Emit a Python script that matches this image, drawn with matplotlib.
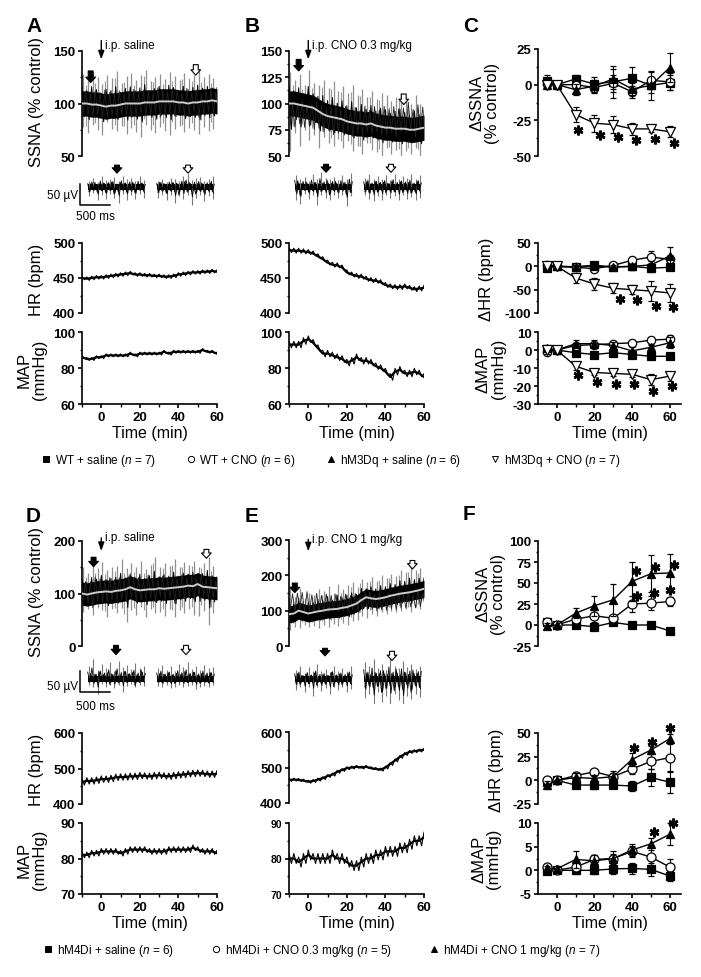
import matplotlib
matplotlib.use('Agg')
import matplotlib.pyplot as plt
from matplotlib.lines import Line2D
import numpy as np

plt.rcParams['font.family'] = ['Liberation Sans', 'DejaVu Sans']
plt.rcParams['mathtext.fontset'] = 'custom'
plt.rcParams['mathtext.rm'] = 'Liberation Sans'
plt.rcParams['mathtext.it'] = 'Liberation Sans:italic'

# ---------------- data: continuous recordings (2.5-min grid) ----------------
trace_t = [-10, -7.5, -5, -2.5, 0, 2.5, 5, 7.5, 10, 12.5, 15, 17.5, 20, 22.5, 25,
           27.5, 30, 32.5, 35, 37.5, 40, 42.5, 45, 47.5, 50, 52.5, 55, 57.5, 60]

# SSNA (% control): running mean, spike tops, spike bottoms
ssna_a_mean = [100, 100, 99, 99, 98, 97, 98, 98, 99, 100, 100, 100, 100, 101, 101, 101, 102, 102, 102, 102, 101, 101, 100, 101, 101, 102, 102, 103, 102]
ssna_a_hi = [128, 122, 130, 125, 119, 127, 124, 131, 120, 126, 129, 122, 127, 132, 121, 125, 128, 123, 130, 126, 122, 129, 124, 127, 131, 125, 128, 124, 126]
ssna_a_lo = [78, 72, 80, 75, 70, 82, 76, 74, 79, 71, 77, 73, 68, 80, 75, 72, 78, 74, 70, 76, 79, 73, 77, 75, 71, 78, 74, 76, 80]
ssna_b_mean = [100, 100, 99, 98, 97, 96, 93, 90, 88, 87, 86, 85, 83, 82, 81, 81, 80, 81, 79, 78, 77, 77, 76, 76, 76, 75, 75, 76, 77]
ssna_b_hi = [130, 122, 128, 118, 132, 120, 118, 122, 115, 121, 112, 117, 110, 118, 108, 114, 106, 112, 104, 110, 108, 102, 106, 110, 104, 100, 108, 100, 98]
ssna_b_lo = [55, 72, 60, 75, 65, 70, 58, 68, 62, 60, 66, 58, 64, 55, 60, 52, 62, 56, 54, 50, 58, 52, 56, 50, 55, 52, 58, 50, 55]
ssna_d_mean = [100, 98, 100, 102, 103, 104, 103, 105, 106, 108, 112, 108, 106, 107, 108, 108, 110, 109, 110, 111, 112, 113, 115, 114, 118, 113, 112, 111, 110]
ssna_d_hi = [150, 140, 155, 148, 160, 145, 150, 152, 165, 148, 158, 150, 162, 146, 155, 170, 150, 158, 152, 165, 150, 160, 155, 162, 150, 158, 170, 152, 150]
ssna_d_lo = [65, 70, 60, 72, 68, 55, 70, 62, 72, 45, 68, 60, 75, 55, 70, 62, 65, 58, 70, 55, 68, 62, 70, 60, 58, 66, 40, 62, 70]
ssna_e_mean = [90, 92, 100, 96, 92, 95, 98, 100, 103, 104, 105, 108, 110, 115, 120, 130, 138, 135, 133, 135, 138, 142, 145, 148, 150, 152, 155, 158, 162]
ssna_e_hi = [170, 140, 165, 135, 150, 145, 160, 155, 170, 150, 175, 160, 172, 180, 168, 190, 182, 195, 185, 200, 192, 205, 198, 215, 210, 225, 215, 220, 218]
ssna_e_lo = [45, 55, 50, 60, 55, 58, 52, 60, 55, 62, 58, 65, 60, 70, 75, 85, 80, 90, 85, 95, 90, 100, 95, 100, 105, 95, 110, 105, 115]
ssna_core = {'A': 12, 'B': 12, 'D': 22, 'E': 24}

hr_a = [450, 449, 450, 451, 451, 452, 453, 454, 455, 456, 457, 455, 455, 454, 454, 453, 453, 452, 452, 453, 455, 456, 457, 458, 458, 459, 459, 460, 459]
map_a = [86, 85, 85, 86, 86, 87, 87, 87, 87, 87, 88, 87, 88, 88, 88, 88, 88, 89, 88, 89, 89, 89, 89, 89, 89, 90, 89, 89, 88]
hr_b = [490, 489, 489, 488, 487, 485, 481, 477, 472, 469, 468, 465, 458, 455, 453, 452, 449, 447, 446, 444, 440, 438, 437, 437, 438, 436, 434, 435, 436]
map_b = [93, 93, 93, 95, 96, 94, 91, 88, 88, 87, 86, 85, 83, 84, 86, 84, 84, 83, 81, 80, 78, 75, 78, 79, 77, 77, 78, 77, 75]
hr_d = [462, 465, 465, 467, 470, 470, 472, 475, 476, 476, 478, 478, 480, 479, 478, 480, 481, 479, 478, 480, 482, 483, 485, 486, 487, 486, 484, 484, 485]
map_d = [81, 81, 81.5, 81.5, 82, 82, 82, 82, 81.5, 82, 82.5, 82.5, 82.5, 82.5, 82, 82, 82, 82, 82.5, 82.5, 82.5, 82.5, 82.5, 83, 82.5, 82, 82, 82, 81.5]
hr_e = [465, 466, 465, 463, 460, 462, 466, 470, 476, 480, 488, 493, 498, 500, 502, 500, 502, 498, 496, 494, 500, 510, 520, 530, 538, 544, 546, 548, 550]
map_e = [80, 80, 79, 80, 81, 80, 80, 80, 80, 81, 80, 80, 79, 78, 78, 79, 80, 80, 81, 81, 82, 82, 82, 83, 83, 84, 85, 85, 86]
# beat-to-beat jitter half-width of each pressure / rate trace
trace_jitter = {'hr_a': 2.5, 'map_a': 0.8, 'hr_b': 3.5, 'map_b': 1.8,
                'hr_d': 9, 'map_d': 0.8, 'hr_e': 4, 'map_e': 1.4}

# raw SSNA snippets (ms, µV): spike times, up-heights, down-depths
snip_t1 = [120, 190, 260, 330, 400, 470, 540, 610, 680, 750, 820, 890, 960, 1030]
snip_t2 = [1270, 1340, 1410, 1480, 1550, 1620, 1690, 1760, 1830, 1900, 1970, 2040, 2110, 2180]
snip_a_up1 = [14, 22, 12, 26, 16, 20, 24, 14, 27, 18, 22, 15, 25, 17]
snip_a_dn1 = [22, 15, 32, 18, 28, 16, 26, 38, 17, 30, 20, 28, 16, 25]
snip_a_up2 = [15, 20, 13, 22, 18, 14, 26, 30, 16, 21, 24, 14, 19, 25]
snip_a_dn2 = [25, 18, 30, 20, 38, 22, 28, 18, 42, 25, 20, 33, 22, 28]
snip_b_up1 = [28, 18, 24, 15, 30, 20, 36, 22, 18, 24, 16, 28, 20, 34]
snip_b_dn1 = [30, 40, 16, 28, 20, 42, 18, 25, 30, 20, 26, 18, 45, 22]
snip_b_up2 = [22, 30, 18, 25, 20, 28, 16, 32, 20, 26, 22, 30, 18, 28]
snip_b_dn2 = [20, 28, 34, 22, 30, 18, 26, 22, 32, 20, 28, 24, 30, 26]
snip_d_up1 = [30, 48, 22, 35, 26, 40, 20, 44, 28, 33, 24, 38, 26, 30]
snip_d_dn1 = [14, 20, 36, 12, 18, 15, 22, 14, 30, 16, 12, 18, 14, 16]
snip_d_up2 = [26, 34, 22, 30, 20, 36, 28, 40, 24, 30, 22, 34, 26, 28]
snip_d_dn2 = [16, 20, 14, 22, 18, 15, 20, 16, 14, 24, 18, 16, 20, 15]
snip_e_up1 = [22, 30, 15, 28, 18, 35, 20, 24, 16, 32, 18, 26, 20, 30]
snip_e_dn1 = [25, 18, 32, 20, 40, 18, 28, 22, 35, 20, 26, 18, 30, 24]
snip_e_up2 = [40, 30, 48, 25, 36, 22, 52, 30, 26, 44, 28, 35, 24, 32]
snip_e_dn2 = [45, 35, 70, 30, 55, 40, 62, 35, 50, 72, 40, 48, 35, 42]
snip_core = {'A': 7, 'B': 8, 'D': 7, 'E': 7}

# ---------------- data: group means ± SEM ----------------
grp_t = [-5, 0, 10, 20, 30, 40, 50, 60]

c_ssna = {
    'wt_sal': ([2.5, 0, 4, 0.5, 2, 4.5, -0.5, 1.5], [4, 0, 3, 5, 5, 8, 5, 5]),
    'wt_cno': ([0.5, 0, 0, -2, 1, -5, 3, 2], [3, 0, 3, 4, 10, 4, 6, 6]),
    'hm3_sal': ([0, 0, -3.5, -1, 4, -3, -0.5, 12], [3, 0, 4, 4, 9, 4, 10, 10]),
    'hm3_cno': ([0, 0, -21, -27, -28, -31, -31, -33], [2, 0, 5, 6, 6, 4, 2, 4]),
}
c_hr = {
    'wt_sal': ([-3, 0, -1, 2, -1, 0, -4, -2], [3, 0, 3, 8, 5, 8, 8, 6]),
    'wt_cno': ([3, 0, -2, -5, 2, 13, 20, 15], [3, 0, 4, 6, 5, 8, 12, 10]),
    'hm3_sal': ([0, 0, -1, 1, -2, 0, 3, 22], [3, 0, 3, 5, 5, 5, 8, 20]),
    'hm3_cno': ([0, 0, -25, -38, -47, -50, -53, -57], [3, 0, 10, 12, 11, 10, 22, 20]),
}
c_map = {
    'wt_sal': ([0.5, 0, -1.5, -2.5, -1.5, -2.5, -3.5, -3.5], [1, 0, 1, 1, 1, 1.5, 1, 1]),
    'wt_cno': ([-1, 0, 2.5, 3, 3.5, 4, 5.5, 6], [1.5, 0, 1.5, 1.5, 1.5, 1.5, 2, 2.5]),
    'hm3_sal': ([1, 0, 3.5, 3.5, 2.5, -0.5, 1.5, 4], [1, 0, 2, 2, 2, 2, 1.5, 3]),
    'hm3_cno': ([0, 0, -9, -12.5, -13, -13.5, -16.5, -14.5], [2, 0, 2, 1.5, 1.5, 1.5, 3, 2.5]),
}
c_ssna_star = ([11.5, 23, 32.5, 42, 52, 62.5], [-32, -35, -37, -39, -38, -41])
c_hr_star = ([33.5, 42.5, 52.5, 62], [-71, -73, -84, -88])
c_map_star = ([11.5, 21.5, 31.5, 41, 51, 61], [-14, -18, -19, -19, -23, -20])

f_ssna = {
    'm4_sal': ([4, 0, 0, -2, 3, 0, 0, -7], [3, 0, 2, 2, 2, 2, 2, 3]),
    'm4_cno03': ([3, 0, 7, 11, 8, 25, 26, 28], [3, 0, 4, 7, 3, 9, 8, 5]),
    'm4_cno1': ([-1, 0, 14, 23, 30, 52, 61, 62], [3, 0, 6, 12, 19, 23, 22, 22]),
}
f_hr = {
    'm4_sal': ([-2, 0, -5, -5, -5, -6, 3, -2], [3, 0, 3, 4, 3, 5, 9, 11]),
    'm4_cno03': ([0, 0, 5, 9, 4, 12, 20, 24], [3, 0, 4, 3, 3, 5, 8, 14]),
    'm4_cno1': ([-5, 0, 3, 2, 4, 22, 32, 44], [4, 0, 5, 4, 6, 7, 4, 5]),
}
f_map = {
    'm4_sal': ([-0.2, 0, 0, 0, 0.3, 0.4, 0.2, -1.2], [0.5, 0, 0.8, 0.7, 1, 1.2, 1.3, 1]),
    'm4_cno03': ([0.7, 0, 0.7, 2.3, 2.5, 4, 2.8, 0.7], [0.5, 0, 0.8, 1, 1, 1.2, 2.5, 1.7]),
    'm4_cno1': ([0.5, 0.3, 2.3, 2, 2.5, 4.3, 5.6, 7.6], [0.5, 0, 1.8, 1.2, 1.5, 1.2, 1.2, 2.3]),
}
f_ssna_star = ([42, 52, 62.5, 42.5, 51.5, 60], [64, 69, 71, 34.5, 38, 42])
f_hr_star = ([41, 50.5, 60], [34, 41, 55])
f_map_star = ([51.5, 62], [8.1, 9.9])

labels_1 = {'wt_sal': 'WT + saline ($n$ = 7)', 'wt_cno': 'WT + CNO ($n$ = 6)',
            'hm3_sal': 'hM3Dq + saline ($n$ = 6)', 'hm3_cno': 'hM3Dq + CNO ($n$ = 7)'}
labels_2 = {'m4_sal': 'hM4Di + saline ($n$ = 6)', 'm4_cno03': 'hM4Di + CNO 0.3 mg/kg ($n$ = 5)',
            'm4_cno1': 'hM4Di + CNO 1 mg/kg ($n$ = 7)'}

# ---------------- styles ----------------
mstyle = {
    'wt_sal': dict(marker='s', mfc='k', ms=5.5, z=3),
    'wt_cno': dict(marker='o', mfc='white', ms=6, z=4),
    'hm3_sal': dict(marker='^', mfc='k', ms=6, z=5),
    'hm3_cno': dict(marker='v', mfc='white', ms=6.5, z=6),
    'm4_sal': dict(marker='s', mfc='k', ms=5.5, z=3),
    'm4_cno03': dict(marker='o', mfc='white', ms=6.5, z=4),
    'm4_cno1': dict(marker='^', mfc='k', ms=6, z=5),
}

W, H = 701, 978
fig = plt.figure(figsize=(W / 100, H / 100), dpi=100)


def mk_ax(x0, x1, y0, y1):
    return fig.add_axes([x0 / W, 1 - y1 / H, (x1 - x0) / W, (y1 - y0) / H])


def fmt(v):
    return str(int(v)) if float(v).is_integer() else str(v)


def style(ax, bottom=True):
    ax.patch.set_alpha(0)
    for s in ['top', 'right']:
        ax.spines[s].set_visible(False)
    ax.spines['left'].set_linewidth(1.2)
    ax.spines['bottom'].set_linewidth(1.2)
    ax.tick_params(which='major', direction='out', length=3.2, width=1.2, pad=1.5)
    ax.tick_params(which='minor', direction='out', length=1.8, width=1.0)
    if not bottom:
        ax.spines['bottom'].set_visible(False)
        ax.tick_params(axis='x', which='both', bottom=False, labelbottom=False)


def set_y(ax, lo, hi, major, minor, size=9.5):
    ax.set_ylim(lo, hi)
    ax.set_yticks(major)
    ax.set_yticks(minor, minor=True)
    ax.set_yticklabels([fmt(v) for v in major], fontweight='bold', fontsize=size)


def set_x(ax, lo, hi):
    ax.set_xlim(lo, hi)
    ax.set_xticks([0, 20, 40, 60])
    ax.set_xticks([-10, 10, 30, 50], minor=True)
    ax.set_xticklabels(['0', '20', '40', '60'], fontweight='bold', fontsize=9.5)


def block_arrow(ax, x, y_tail, y_tip, filled):
    ax.annotate('', xy=(x, y_tip), xytext=(x, y_tail), annotation_clip=False,
                arrowprops=dict(arrowstyle='simple,head_length=0.55,head_width=1.0,tail_width=0.5',
                                mutation_scale=7, fc='k' if filled else 'white', ec='k', lw=0.8,
                                shrinkA=0, shrinkB=0))


def thin_arrow(ax, x, y_tail, y_tip):
    ax.annotate('', xy=(x, y_tip), xytext=(x, y_tail), annotation_clip=False,
                arrowprops=dict(arrowstyle='-|>,head_length=0.5,head_width=0.18', mutation_scale=10,
                                fc='k', ec='k', lw=1.0, shrinkA=0, shrinkB=0))


def interleave(a, b):
    out = np.empty(len(a) * 2)
    out[0::2] = a
    out[1::2] = b
    return out


def ssna_panel(ax, mean, hi, lo, core):
    t = np.array(trace_t, float)
    m = np.array(mean, float)
    h = np.array(hi, float)
    l = np.array(lo, float)
    # sparse large excursions (light grey)
    ax.vlines(t + 0.6, l, h, color='#8f8f8f', lw=0.9, zorder=1)
    ax.vlines(t[1::2] - 0.6, m[1::2] - 0.75 * (m[1::2] - l[1::2]), m[1::2] + 0.8 * (h[1::2] - m[1::2]),
              color='#9a9a9a', lw=0.8, zorder=1)
    # dense dark activity
    ax.fill_between(t, m - core, m + core, color='k', lw=0, zorder=2)
    xs = interleave(t, t + 1.25)
    ys = interleave(m + 0.55 * (h - m), m - 0.55 * (m - l))
    ax.plot(xs, ys, color='k', lw=0.7, zorder=2)
    ys2 = interleave(m - 0.45 * (m - l[::-1]), m + 0.45 * (h[::-1] - m))
    ax.plot(xs + 0.6, ys2, color='#222222', lw=0.6, zorder=2)
    ax.plot(trace_t, mean, color='#cccccc', lw=1.4, zorder=3)
    ax.set_xlim(-10, 60)
    style(ax, bottom=False)


def snippet_panel(ax, up1, dn1, up2, dn2, core):
    for tt, up, dn in [(snip_t1, up1, dn1), (snip_t2, up2, dn2)]:
        tt = np.array(tt, float)
        u = np.array(up, float)
        d = np.array(dn, float)
        ax.fill_between([tt[0] - 25, tt[-1] + 25], [-core, -core], [core, core], color='k', lw=0)
        ax.vlines(tt, -d, u, color='#777777', lw=0.8)
        ax.plot(interleave(tt - 25, tt + 10), interleave(u * 0.55, -d * 0.55), color='k', lw=0.6)
        ax.plot(interleave(tt - 5, tt + 25), interleave(-d[::-1] * 0.45, u[::-1] * 0.45),
                color='k', lw=0.6)
    ax.set_xlim(0, 2250)
    ax.set_ylim(-59.5, 59.5)
    ax.axis('off')


def trace_panel(ax, vals, jitter):
    t = np.array(trace_t, float)
    v = np.array(vals, float)
    xs = interleave(t, t + 1.25)
    ys = interleave(v + jitter, v - jitter)
    ax.plot(xs[:-1], ys[:-1], color='k', lw=0.8)
    ax.plot(t, v, color='k', lw=1.6)
    ax.set_xlim(-10, 60)


def group_panel(ax, data, stars):
    for key, (vals, err) in data.items():
        st = mstyle[key]
        ax.errorbar(grp_t, vals, yerr=err, color='k', marker=st['marker'], mfc=st['mfc'], mec='k',
                    ms=st['ms'], mew=0.9, lw=1.0, elinewidth=0.8, capsize=2, capthick=0.8,
                    zorder=st['z'], clip_on=False)
    ax.plot(stars[0], stars[1], ls='none', marker=(6, 2, 0), ms=7, mew=1.9, color='k', clip_on=False)
    ax.set_xlim(-10, 66)
    ax.set_xticks([0, 20, 40, 60])
    ax.set_xticks([10, 30, 50], minor=True)


LX = (82, 217)
MX = (289, 424)
RX = (538, 681)

# ---------------- row 1 ----------------
axA = mk_ax(*LX, 52, 157)
ssna_panel(axA, ssna_a_mean, ssna_a_hi, ssna_a_lo, ssna_core['A'])
set_y(axA, 50, 150, [50, 100, 150], [75, 125])
thin_arrow(axA, 0, 160, 142)
axA.text(1.8, 156, 'i.p. saline', fontsize=8.5, va='center', ha='left')
block_arrow(axA, -5.5, 131, 120, True)
block_arrow(axA, 49, 137, 127, False)

axB = mk_ax(*MX, 52, 157)
ssna_panel(axB, ssna_b_mean, ssna_b_hi, ssna_b_lo, ssna_core['B'])
set_y(axB, 50, 150, [50, 75, 100, 125, 150], [62.5, 87.5, 112.5, 137.5])
thin_arrow(axB, 0, 160, 142)
axB.text(1.8, 156, 'i.p. CNO 0.3 mg/kg', fontsize=8.5, va='center', ha='left')
block_arrow(axB, -5, 142, 131, True)
block_arrow(axB, 49.5, 109, 99, False)

sA = mk_ax(*LX, 163, 213)
snippet_panel(sA, snip_a_up1, snip_a_dn1, snip_a_up2, snip_a_dn2, snip_core['A'])
block_arrow(sA, 583, 52, 33, True)
block_arrow(sA, 1767, 52, 33, False)
sA.plot([-33, -33, 467], [7, -43, -43], color='k', lw=1.1, clip_on=False)
sA.text(-60, -20, '50 µV', fontsize=8.5, ha='right', va='center')
sA.text(230, -69, '500 ms', fontsize=8.5, ha='center', va='center')

sB = mk_ax(*MX, 163, 213)
snippet_panel(sB, snip_b_up1, snip_b_dn1, snip_b_up2, snip_b_dn2, snip_core['B'])
block_arrow(sB, 617, 54, 35, True)
block_arrow(sB, 1700, 54, 35, False)

axAh = mk_ax(*LX, 244, 314)
trace_panel(axAh, hr_a, trace_jitter['hr_a'])
style(axAh, bottom=False)
set_y(axAh, 400, 500, [400, 450, 500], [425, 475])

axAm = mk_ax(*LX, 333, 405)
trace_panel(axAm, map_a, trace_jitter['map_a'])
style(axAm)
set_y(axAm, 60, 100, [60, 80, 100], [70, 90])
set_x(axAm, -10, 60)

axBh = mk_ax(*MX, 244, 314)
trace_panel(axBh, hr_b, trace_jitter['hr_b'])
style(axBh, bottom=False)
set_y(axBh, 400, 500, [400, 450, 500], [425, 475])

axBm = mk_ax(*MX, 333, 405)
trace_panel(axBm, map_b, trace_jitter['map_b'])
style(axBm)
set_y(axBm, 60, 100, [60, 80, 100], [70, 90])
set_x(axBm, -10, 60)

axC1 = mk_ax(*RX, 50, 157)
group_panel(axC1, c_ssna, c_ssna_star)
style(axC1, bottom=False)
set_y(axC1, -50, 25, [-50, -25, 0, 25], [-37.5, -12.5, 12.5])

axC2 = mk_ax(*RX, 244, 314)
group_panel(axC2, c_hr, c_hr_star)
style(axC2, bottom=False)
set_y(axC2, -100, 50, [-100, -50, 0, 50], [-75, -25, 25])

axC3 = mk_ax(*RX, 333, 405)
group_panel(axC3, c_map, c_map_star)
style(axC3)
set_y(axC3, -30, 10, [-30, -20, -10, 0, 10], [-25, -15, -5, 5])
axC3.set_xticklabels(['0', '20', '40', '60'], fontweight='bold', fontsize=9.5)

# ---------------- row 2 ----------------
axD = mk_ax(*LX, 542, 647)
ssna_panel(axD, ssna_d_mean, ssna_d_hi, ssna_d_lo, ssna_core['D'])
set_y(axD, 0, 200, [0, 100, 200], [50, 150])
thin_arrow(axD, 0, 206, 181)
axD.text(1.8, 207, 'i.p. saline', fontsize=8.5, va='center', ha='left')
block_arrow(axD, -4, 169, 151, True)
block_arrow(axD, 54.5, 184, 167, False)

axE = mk_ax(*MX, 541, 647)
ssna_panel(axE, ssna_e_mean, ssna_e_hi, ssna_e_lo, ssna_core['E'])
set_y(axE, 0, 300, [0, 100, 200, 300], [50, 150, 250])
thin_arrow(axE, 0, 302, 268)
axE.text(1.8, 302, 'i.p. CNO 1 mg/kg', fontsize=8.5, va='center', ha='left')
block_arrow(axE, -7, 178, 151, True)
block_arrow(axE, 54, 242, 218, False)

sD = mk_ax(*LX, 655, 705)
snippet_panel(sD, snip_d_up1, snip_d_dn1, snip_d_up2, snip_d_dn2, snip_core['D'])
block_arrow(sD, 567, 80, 58, True)
block_arrow(sD, 1733, 80, 58, False)
sD.plot([-33, -33, 467], [19, -31, -31], color='k', lw=1.1, clip_on=False)
sD.text(-60, -17, '50 µV', fontsize=8.5, ha='right', va='center')
sD.text(230, -64, '500 ms', fontsize=8.5, ha='center', va='center')

sE = mk_ax(*MX, 655, 705)
snippet_panel(sE, snip_e_up1, snip_e_dn1, snip_e_up2, snip_e_dn2, snip_core['E'])
block_arrow(sE, 600, 73, 55, True)
block_arrow(sE, 1717, 66, 44, False)

axDh = mk_ax(*LX, 734, 805)
trace_panel(axDh, hr_d, trace_jitter['hr_d'])
style(axDh, bottom=False)
set_y(axDh, 400, 600, [400, 500, 600], [450, 550])

axDm = mk_ax(*LX, 824, 895)
trace_panel(axDm, map_d, trace_jitter['map_d'])
style(axDm)
set_y(axDm, 70, 90, [70, 80, 90], [75, 85])
set_x(axDm, -10, 60)

axEh = mk_ax(*MX, 733, 804)
trace_panel(axEh, hr_e, trace_jitter['hr_e'])
style(axEh, bottom=False)
set_y(axEh, 400, 600, [400, 500, 600], [450, 550])

axEm = mk_ax(*MX, 824, 895)
trace_panel(axEm, map_e, trace_jitter['map_e'])
style(axEm)
set_y(axEm, 70, 90, [70, 80, 90], [75, 85], size=7.5)
set_x(axEm, -10, 60)

axF1 = mk_ax(*RX, 542, 647)
group_panel(axF1, f_ssna, f_ssna_star)
style(axF1, bottom=False)
set_y(axF1, -25, 100, [-25, 0, 25, 50, 75, 100], [-12.5, 12.5, 37.5, 62.5, 87.5])

axF2 = mk_ax(*RX, 734, 805)
group_panel(axF2, f_hr, f_hr_star)
style(axF2, bottom=False)
set_y(axF2, -25, 50, [-25, 0, 25, 50], [-12.5, 12.5, 37.5])

axF3 = mk_ax(*RX, 824, 895)
group_panel(axF3, f_map, f_map_star)
style(axF3)
set_y(axF3, -5, 10, [-5, 0, 5, 10], [-2.5, 2.5, 7.5])
axF3.set_xticklabels(['0', '20', '40', '60'], fontweight='bold', fontsize=9.5)

# ---------------- labels ----------------
def ylab(x, y, s, size=12, ls=1.0):
    fig.text(x / W, 1 - y / H, s, rotation=90, ha='center', va='center', fontsize=size,
             linespacing=ls, multialignment='center')

for off in (0, 490):
    ylab(36, 102 + off, 'SSNA (% control)')
    ylab(36, 280 + off, 'HR (bpm)')
    ylab(32, 370 + off, 'MAP\n(mmHg)')
    for cx in (150, 357, 610):
        fig.text(cx / W, 1 - (434 + off) / H, 'Time (min)', ha='center', va='center', fontsize=11.5)

ylab(485, 103, 'ΔSSNA\n(% control)')
ylab(486, 279, 'ΔHR (bpm)')
ylab(491, 369, 'ΔMAP\n(mmHg)')
ylab(491, 594, 'ΔSSNA\n(% control)')
ylab(497, 770, 'ΔHR (bpm)')
ylab(486, 859, 'ΔMAP\n(mmHg)')

for letter, x, y in [('A', 26, 27), ('B', 245, 27), ('C', 463, 27),
                     ('D', 26, 517), ('E', 245, 517), ('F', 463, 515)]:
    fig.text(x / W, 1 - y / H, letter, fontsize=15, fontweight='bold', ha='left', va='center')

# ---------------- legends ----------------
def make_handles(keys):
    hs = []
    for k in keys:
        st = mstyle[k]
        hs.append(Line2D([], [], ls='none', marker=st['marker'], mfc=st['mfc'], mec='k',
                         ms=4.5, mew=0.7))
    return hs

k1 = ['wt_sal', 'wt_cno', 'hm3_sal', 'hm3_cno']
fig.legend(make_handles(k1), [labels_1[k] for k in k1], loc='center',
           bbox_to_anchor=(331 / W, 1 - 461 / H), ncol=4, frameon=False,
           prop={'family': ['Liberation Sans Narrow', 'Liberation Sans'], 'size': 8.5},
           handlelength=0.7, handletextpad=0.4, columnspacing=2.6, borderpad=0)
k2 = ['m4_sal', 'm4_cno03', 'm4_cno1']
fig.legend(make_handles(k2), [labels_2[k] for k in k2], loc='center',
           bbox_to_anchor=(322 / W, 1 - 951 / H), ncol=3, frameon=False,
           prop={'family': ['Liberation Sans Narrow', 'Liberation Sans'], 'size': 8.5},
           handlelength=0.7, handletextpad=0.4, columnspacing=3.2, borderpad=0)

fig.savefig('out.png', dpi=100, facecolor='white')
